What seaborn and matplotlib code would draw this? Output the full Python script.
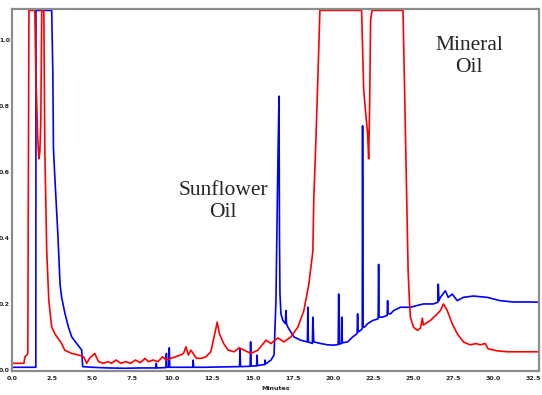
import matplotlib
matplotlib.use("Agg")
import matplotlib.pyplot as plt
import seaborn as sns
import pandas as pd

# Sunflower oil (blue) trace: retention time (min), response
sun_t = [0.1, 1.49, 1.50, 2.48, 2.55, 2.59, 2.69, 2.86, 3.0, 3.1, 3.31, 3.52, 3.73, 4.04, 4.35, 4.41,
         5.0, 6.0, 7.0, 8.0, 8.97, 9.0, 9.03, 9.6, 9.63, 9.66, 9.78, 9.81, 9.84, 10.5, 11.27, 11.3, 11.33,
         12.0, 13.0, 14.19, 14.22, 14.25, 14.85, 14.88, 14.91, 15.25, 15.28, 15.31, 15.53, 15.75, 15.78,
         15.81, 16.15, 16.34, 16.46, 16.58, 16.65, 16.68, 16.71, 16.77, 16.89, 17.05, 17.08, 17.12, 17.2,
         17.58, 18.0, 18.42, 18.45, 18.48, 18.73, 18.76, 18.82, 19.25, 19.69, 20.06, 20.34, 20.37, 20.4,
         20.53, 20.56, 20.6, 20.93, 21.24, 21.52, 21.55, 21.58, 21.74, 21.84, 21.86, 21.89, 21.99, 22.17,
         22.5, 22.83, 22.86, 22.89, 23.1, 23.39, 23.42, 23.45, 23.6, 23.8, 24.22, 24.84, 25.65, 26.27,
         26.55, 26.58, 26.62, 26.71, 27.02, 27.2, 27.45, 27.76, 28.14, 28.76, 29.63, 30.43, 31.24,
         32.3, 33.0]
sun_v = [0.008, 0.008, 1.09, 1.09, 0.9, 0.67, 0.57, 0.415, 0.26, 0.22, 0.17, 0.13, 0.10, 0.08, 0.06, 0.01,
         0.008, 0.006, 0.005, 0.006, 0.006, 0.02, 0.006, 0.007, 0.05, 0.008, 0.008, 0.067, 0.008, 0.008,
         0.008, 0.03, 0.008, 0.008, 0.009, 0.01, 0.065, 0.01, 0.011, 0.085, 0.012, 0.012, 0.045, 0.013,
         0.015, 0.016, 0.03, 0.018, 0.03, 0.045, 0.21, 0.63, 0.83, 0.4, 0.23, 0.17, 0.15, 0.14, 0.18,
         0.14, 0.13, 0.10, 0.09, 0.085, 0.19, 0.085, 0.08, 0.16, 0.085, 0.08, 0.076, 0.075, 0.077, 0.23,
         0.078, 0.08, 0.16, 0.082, 0.085, 0.1, 0.11, 0.17, 0.115, 0.12, 0.125, 0.74, 0.13, 0.13, 0.14,
         0.15, 0.155, 0.32, 0.16, 0.16, 0.165, 0.21, 0.17, 0.17, 0.18, 0.19, 0.19, 0.2, 0.2, 0.205,
         0.26, 0.21, 0.22, 0.24, 0.22, 0.23, 0.21, 0.22, 0.224, 0.22, 0.21, 0.206, 0.206, 0.205]

# Mineral oil (red) trace
min_t = [0.1, 0.75, 0.81, 0.93, 0.99, 1.06, 1.43, 1.49, 1.61, 1.68, 1.74, 1.8, 1.86, 1.99, 2.05, 2.17,
         2.3, 2.48, 2.67, 3.1, 3.29, 3.73, 4.16, 4.47, 4.66, 4.84, 5.16, 5.4, 5.7, 6.0, 6.2, 6.5, 6.8,
         7.1, 7.4, 7.7, 8.0, 8.3, 8.5, 8.8, 9.1, 9.4, 9.6, 9.9, 10.2, 10.5, 10.7, 10.85, 11.0, 11.15,
         11.3, 11.5, 11.8, 12.1, 12.4, 12.6, 12.8, 12.93, 13.2, 13.48, 13.85, 14.16, 14.47, 14.9, 15.34,
         15.84, 16.15, 16.58, 16.96, 17.39, 17.83, 18.2, 18.51, 18.76, 18.82, 18.94, 19.07, 19.2, 21.8,
         21.93, 22.05, 22.17, 22.24, 22.3, 22.36, 22.45, 24.38, 24.5, 24.6, 24.7, 24.78, 24.84, 25.03,
         25.28, 25.47, 25.59, 25.65, 26.09, 26.52, 26.71, 26.9, 27.14, 27.45, 27.76, 28.14, 28.57,
         28.94, 29.19, 29.5, 29.69, 30.25, 30.87, 33.0]
min_v = [0.02, 0.02, 0.04, 0.045, 0.05, 1.09, 1.09, 0.9, 0.7, 0.64, 0.66, 0.75, 1.09, 1.09, 0.67, 0.36,
         0.21, 0.13, 0.11, 0.08, 0.06, 0.05, 0.045, 0.04, 0.02, 0.035, 0.05, 0.025, 0.02, 0.025, 0.02,
         0.03, 0.02, 0.025, 0.02, 0.03, 0.022, 0.035, 0.025, 0.03, 0.025, 0.04, 0.03, 0.035, 0.04, 0.045,
         0.05, 0.07, 0.045, 0.06, 0.05, 0.035, 0.035, 0.04, 0.055, 0.1, 0.145, 0.11, 0.08, 0.06, 0.055,
         0.067, 0.06, 0.05, 0.06, 0.09, 0.08, 0.097, 0.085, 0.1, 0.13, 0.18, 0.26, 0.36, 0.52, 0.68, 0.88,
         1.09, 1.09, 0.85, 0.78, 0.72, 0.64, 0.8, 1.06, 1.09, 1.09, 0.8, 0.55, 0.3, 0.21, 0.16, 0.13,
         0.12, 0.127, 0.157, 0.136, 0.15, 0.17, 0.18, 0.2, 0.18, 0.14, 0.11, 0.085, 0.076, 0.08, 0.076,
         0.08, 0.064, 0.058, 0.055, 0.055]

x_ticks = [0.0, 2.5, 5.0, 7.5, 10.0, 12.5, 15.0, 17.5, 20.0, 22.5, 25.0, 27.5, 30.0, 32.5]
y_ticks = [0.0, 0.2, 0.4, 0.6, 0.8, 1.0]

df = pd.concat([
    pd.DataFrame({"t": sun_t, "v": sun_v, "oil": "Sunflower"}),
    pd.DataFrame({"t": min_t, "v": min_v, "oil": "Mineral"}),
])

sns.set_style("white")
fig = plt.figure(figsize=(5.42, 3.95), dpi=100)
ax = fig.add_axes([0.022, 0.061, 0.9725, 0.916])

sns.lineplot(data=df, x="t", y="v", hue="oil", estimator=None, sort=False,
             palette={"Sunflower": "#0000ff", "Mineral": "#ff0000"},
             linewidth=1.2, legend=False, ax=ax)

ax.set_xlim(0.12, 32.86)
ax.set_ylim(-0.003, 1.094)
ax.set_xticks(x_ticks)
ax.set_xticklabels([f"{v:.1f}" for v in x_ticks], fontsize=4.5, fontweight="bold")
ax.set_yticks(y_ticks)
ax.set_yticklabels([f"{v:.1f}" for v in y_ticks], fontsize=4.5, fontweight="bold")
ax.tick_params(axis="x", length=0, pad=4)
ax.tick_params(axis="y", length=0, pad=1.5)
ax.set_xlabel("Minutes", fontsize=4.5, fontweight="bold", labelpad=3)
ax.set_ylabel("")

for side, sp in ax.spines.items():
    sp.set_color("#8c8c8c")
    sp.set_linewidth(1.6)
    sp.set_visible(True)
    if side != "top":
        sp.set_linestyle((0, (3.5, 1)))

ax.text(13.17, 0.51, "Sunflower\nOil", fontsize=15.5, family="Liberation Serif",
        ha="center", va="center", multialignment="center")
ax.text(28.5, 0.95, "Mineral\nOil", fontsize=15.5, family="Liberation Serif",
        ha="center", va="center", multialignment="center")

fig.savefig("out.png", dpi=100)
